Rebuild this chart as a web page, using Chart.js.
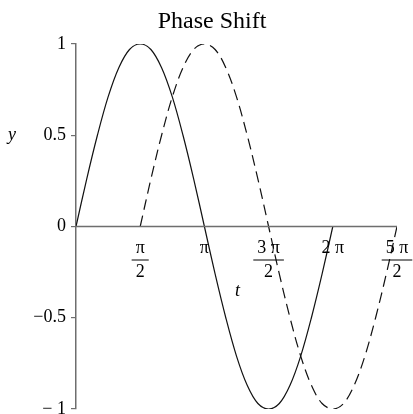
<!DOCTYPE html>
<html>
<head>
<meta charset="utf-8">
<title>Phase Shift</title>
<script src="https://cdn.jsdelivr.net/npm/chart.js@4.4.1/dist/chart.umd.min.js"></script>
<style>
  html, body { margin: 0; padding: 0; background: #fff; }
  #wrap { width: 413px; height: 414px; }
</style>
</head>
<body>
<div id="wrap"><canvas id="phaseChart"></canvas></div>
<script>
// t is measured in steps of pi/12
const solidT = [0, 1, 2, 3, 4, 5, 6, 7, 8, 9, 10, 11, 12, 13, 14, 15, 16, 17, 18, 19, 20, 21, 22, 23, 24];
const solidY = [0, 0.26, 0.5, 0.71, 0.87, 0.97, 1, 0.97, 0.87, 0.71, 0.5, 0.26, 0,
                -0.26, -0.5, -0.71, -0.87, -0.97, -1, -0.97, -0.87, -0.71, -0.5, -0.26, 0];
const dashedT = [6, 7, 8, 9, 10, 11, 12, 13, 14, 15, 16, 17, 18, 19, 20, 21, 22, 23, 24, 25, 26, 27, 28, 29, 30];
const dashedY = [0, 0.26, 0.5, 0.71, 0.87, 0.97, 1, 0.97, 0.87, 0.71, 0.5, 0.26, 0,
                 -0.26, -0.5, -0.71, -0.87, -0.97, -1, -0.97, -0.87, -0.71, -0.5, -0.26, 0];

const xTickPos = [6, 12, 18, 24, 30];
const xTickNum = ['π', 'π', '3 π', '2 π', '5 π'];
const xTickDen = ['2', '', '2', '', '2'];
const yTickVals = [1, 0.5, 0, -0.5, -1];
const yTickLabels = ['1', '0.5', '0', '−0.5', '− 1'];

const AXIS_COLOR = '#6e6e6e';
const SERIF = '"Liberation Serif", "DejaVu Serif", serif';

function toPoints(xs, ys) {
    return xs.map((x, i) => ({ x: x, y: ys[i] }));
}

// title, axis names, x axis line and the fraction tick labels
const decorations = {
    id: 'decorations',
    afterDraw(chart) {
        const ctx = chart.ctx;
        const xs = chart.scales.x;
        const ys = chart.scales.y;
        const y0 = ys.getPixelForValue(0);

        ctx.save();
        ctx.fillStyle = '#000';
        ctx.font = '24px ' + SERIF;
        ctx.textAlign = 'center';
        ctx.textBaseline = 'alphabetic';
        ctx.fillText('Phase Shift', 212, 28);

        ctx.strokeStyle = AXIS_COLOR;
        ctx.lineWidth = 1.5;
        ctx.beginPath();
        ctx.moveTo(xs.getPixelForValue(0), y0);
        ctx.lineTo(xs.getPixelForValue(30), y0);
        ctx.stroke();

        ctx.font = '18px ' + SERIF;
        ctx.textBaseline = 'middle';
        xTickPos.forEach((v, i) => {
            const px = xs.getPixelForValue(v);
            const numY = y0 + 22;
            ctx.fillStyle = '#000';
            ctx.fillText(xTickNum[i], px, numY);
            if (xTickDen[i]) {
                const w = ctx.measureText(xTickNum[i]).width + 8;
                ctx.strokeStyle = '#000';
                ctx.lineWidth = 1;
                ctx.beginPath();
                ctx.moveTo(px - w / 2, y0 + 33.5);
                ctx.lineTo(px + w / 2, y0 + 33.5);
                ctx.stroke();
                ctx.fillText(xTickDen[i], px, y0 + 46);
            }
        });

        ctx.font = 'italic 18px ' + SERIF;
        ctx.fillText('t', (chart.chartArea.left + chart.chartArea.right) / 2 + 1, y0 + 65);
        ctx.fillText('y', 12, ys.getPixelForValue(0.5));
        ctx.restore();
    }
};

const ctx = document.getElementById('phaseChart').getContext('2d');
const phaseChart = new Chart(ctx, {
    type: 'line',
    data: {
        datasets: [{
            data: toPoints(solidT, solidY),
            borderColor: '#111',
            borderWidth: 1.2,
            pointRadius: 0,
            tension: 0.35,
            fill: false
        }, {
            data: toPoints(dashedT, dashedY),
            borderColor: '#111',
            borderWidth: 1.2,
            borderDash: [11, 6],
            pointRadius: 0,
            tension: 0.35,
            fill: false
        }]
    },
    options: {
        responsive: true,
        maintainAspectRatio: false,
        animation: false,
        layout: {
            padding: { top: 44, right: 16, bottom: 5, left: 0 }
        },
        plugins: {
            legend: { display: false },
            tooltip: { enabled: false },
            title: { display: false }
        },
        scales: {
            x: {
                type: 'linear',
                display: false,
                min: 0,
                max: 30
            },
            y: {
                type: 'linear',
                min: -1,
                max: 1,
                afterBuildTicks(scale) {
                    scale.ticks = yTickVals.map(v => ({ value: v }));
                },
                afterFit(scale) {
                    scale.width = 76;
                    scale.paddingTop = 0;
                    scale.paddingBottom = 0;
                },
                border: { color: AXIS_COLOR, width: 1.5 },
                grid: {
                    drawOnChartArea: false,
                    drawTicks: true,
                    tickLength: 5,
                    color: AXIS_COLOR,
                    lineWidth: 1.2
                },
                ticks: {
                    color: '#000',
                    padding: 5,
                    font: { family: SERIF, size: 18 },
                    callback: function (value) {
                        const i = yTickVals.indexOf(value);
                        return i >= 0 ? yTickLabels[i] : '';
                    }
                }
            }
        }
    },
    plugins: [decorations]
});
</script>
</body>
</html>
